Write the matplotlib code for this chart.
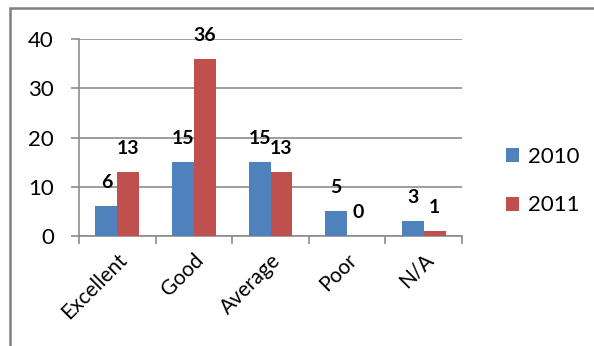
import numpy as np
import matplotlib
matplotlib.use("Agg")
import matplotlib.pyplot as plt
from matplotlib.patches import Rectangle

plt.rcParams["font.family"] = ["Lato", "DejaVu Sans"]

categories = ["Excellent", "Good", "Average", "Poor", "N/A"]
vals_2010 = [6, 15, 15, 5, 3]
vals_2011 = [13, 36, 13, 0, 1]
series_names = ["2010", "2011"]

BLUE = "#4F81BD"
RED = "#C0504D"
GRID = "#8C8C8C"

fig = plt.figure(figsize=(5.94, 3.46), dpi=100)
ax = fig.add_axes([79 / 594, 1 - 236 / 346, 383 / 594, 197 / 346])

# chart frame (runs off the right/bottom edge)
fig.patches.append(Rectangle((10 / 594, -0.1), 1.2, 1 - 8 / 346 + 0.1,
                             transform=fig.transFigure, fill=False,
                             edgecolor="#7F7F7F", linewidth=1.8))

x = np.arange(len(categories))
w = 0.286
b1 = ax.bar(x - w / 2, vals_2010, w, color=BLUE, label=series_names[0], zorder=3)
b2 = ax.bar(x + w / 2, vals_2011, w, color=RED, label=series_names[1], zorder=3)

for bars in (b1, b2):
    for rect in bars:
        h = rect.get_height()
        ax.annotate(f"{h:g}", (rect.get_x() + rect.get_width() / 2, h),
                    xytext=(0, 17), textcoords="offset points",
                    ha="center", va="center", fontsize=14, fontweight="bold")

ax.set_xlim(-0.5, len(categories) - 0.5)
ax.set_ylim(0, 40)
ax.set_yticks([0, 10, 20, 30, 40])
ax.yaxis.grid(True, color=GRID, linewidth=1.2, zorder=0)
ax.tick_params(axis="y", labelsize=16, length=6, color=GRID, width=1.2, pad=12)

ax.set_xticks(np.arange(len(categories) + 1) - 0.5, minor=False)
ax.set_xticklabels([])
ax.set_xticks(x, minor=True)
ax.set_xticklabels(categories, minor=True, rotation=45, ha="right",
                   rotation_mode="anchor", fontsize=15)
ax.tick_params(axis="x", which="major", length=6, color=GRID, width=1.2)
ax.tick_params(axis="x", which="minor", length=0, pad=10)

for s in ("top", "right"):
    ax.spines[s].set_visible(False)
for s in ("left", "bottom"):
    ax.spines[s].set_color(GRID)
    ax.spines[s].set_linewidth(1.2)

fig.legend(handles=[b1, b2], loc="center left",
           bbox_to_anchor=(486 / 594, 1 - 181 / 346), frameon=False,
           fontsize=16, handlelength=0.6, handleheight=0.6,
           handletextpad=0.4, labelspacing=1.3)

fig.savefig("out.png", dpi=100)
